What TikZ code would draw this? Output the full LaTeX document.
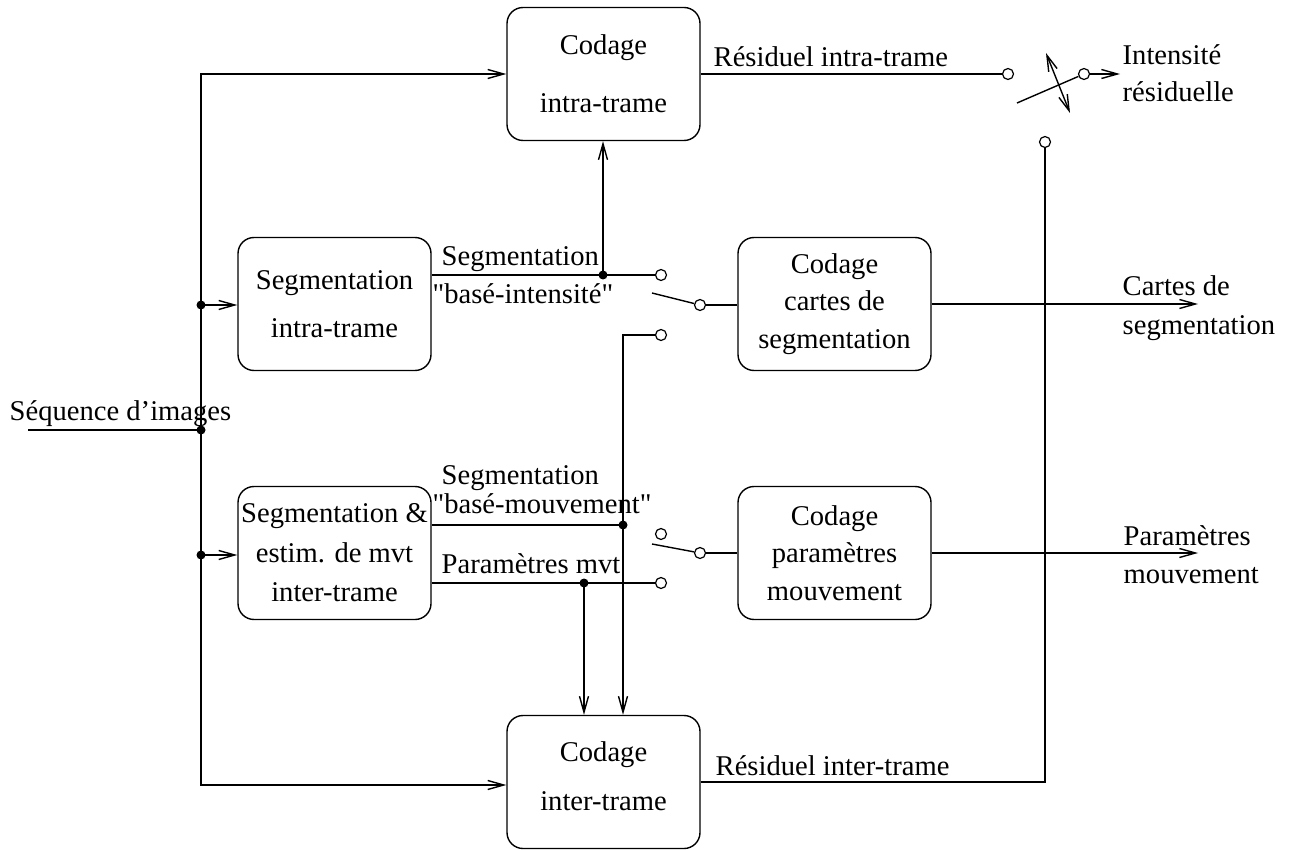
\documentclass[tikz,border=0pt]{standalone}
\usepackage{fontspec}
\setmainfont{Liberation Serif}
\newfontfamily\plainquote{Liberation Serif}
\usetikzlibrary{arrows.meta}
\newcommand{\sq}{{\plainquote"}}

\begin{document}
\begin{tikzpicture}[x=0.5pt,y=-0.5pt, line width=0.7pt,
  every node/.style={font=\fontsize{14.3}{18.75}\selectfont},
  block/.style={draw, rounded corners=8pt, minimum width=96.5pt, minimum height=66.5pt, align=center, inner sep=0pt},
  contact/.style={draw, circle, inner sep=0pt, minimum size=5.5pt, line width=0.6pt},
  junction/.style={fill, circle, inner sep=0pt, minimum size=4.5pt},
  tag/.style={anchor=base west, inner sep=0pt},
  flow/.style={-{Straight Barb[length=8pt,width=4.5pt]}},
  bothflow/.style={{Straight Barb[length=8pt,width=4.5pt]}-{Straight Barb[length=8pt,width=4.5pt]}}
]
\useasboundingbox (0,0) rectangle (1290,850);

% processing blocks
\node[block] (intra)  at (603.5,74)  {Codage\\[10.25pt]intra-trame};
\node[block] (segI)   at (334.5,304) {Segmentation\\[5pt]intra-trame};
\node[block] (cartes) at (834.5,304) {Codage\\cartes de\\segmentation};
\node[block] (segM)   at (334.5,553) {Segmentation \&\\[1pt]estim. de mvt\\[1pt]inter-trame};
\node[block] (param)  at (834.5,553) {Codage\\paramètres\\mouvement};
\node[block] (inter)  at (603.5,782) {Codage\\[5.75pt]inter-trame\\[-12.75pt]};

% input bus
\coordinate (inStart) at (28,430);
\node[junction] (jIn)   at (201,430) {};
\node[junction] (jSegI) at (201,305) {};
\node[junction] (jSegM) at (201,555) {};
\draw (inStart) -- (jIn.center);
\draw[flow] (jIn.center) |- (intra.west);
\draw[flow] (jIn.center) |- ([yshift=-1.5pt]inter.west);
\draw[flow] (jSegI.center) -- (segI.west |- jSegI);
\draw[flow] (jSegM.center) -- (segM.west |- jSegM);

% intensity-based segmentation and its switch
\node[junction] (jI)  at (603,275) {};
\node[contact]  (c1a) at (661,275) {};
\node[contact]  (c1p) at (700,305) {};
\node[contact]  (c1b) at (661,335) {};
\coordinate (b1) at (652,293);
\draw (segI.east |- jI) -- (jI.center) -- (c1a);
\draw[flow] (jI.center) -- (jI |- intra.south);
\draw (b1) -- (c1p);
\draw (c1p) -- (cartes.west |- c1p);

% motion-based segmentation and motion parameters
\node[junction] (jM)  at (623,525) {};
\node[junction] (jP)  at (584,583) {};
\node[contact]  (c2a) at (661,534) {};
\node[contact]  (c2p) at (700,553) {};
\node[contact]  (c2b) at (661,583) {};
\coordinate (b2) at (652,544);
\draw (segM.east |- jM) -- (jM.center);
\draw (c1b) -| (jM.center);
\draw[flow] (jM.center) -- (jM |- inter.north);
\draw (segM.east |- jP) -- (jP.center) -- (c2b);
\draw[flow] (jP.center) -- (jP |- inter.north);
\draw (b2) -- (c2p);
\draw (c2p) -- (param.west |- c2p);

% outputs
\coordinate (outC) at (1198,304);
\coordinate (outP) at (1198,553);
\draw[flow] (cartes.east) -- (outC);
\draw[flow] (param.east) -- (outP);

% residual switch
\node[contact] (c3a) at (1008,74) {};
\node[contact] (c3p) at (1084,74) {};
\node[contact] (c3b) at (1045,142) {};
\coordinate (b3) at (1017,103);
\coordinate (outI) at (1120,74);
\coordinate (d1) at (1046,53);
\coordinate (d2) at (1070,113);
\draw (intra.east) -- (c3a);
\draw (b3) -- (c3p);
\draw[flow] (c3p) -- (outI);
\draw (inter.east) -| (c3b);
\draw[bothflow] (d1) -- (d2);

% labels
\node[tag] (tSeq)   at (9,420)    {Séquence d’images};
\node[tag] (tSegI)  at (441,265)  {Segmentation};
\node[tag] (tBI)    at (432,304)  {\sq basé-intensité\sq};
\node[tag] (tSegM)  at (441,484)  {Segmentation};
\node[tag] (tBM)    at (432,513)  {\sq basé-mouvement\sq};
\node[tag] (tPm)    at (441,573)  {Paramètres mvt};
\node[tag] (tRIa)   at (713,67)   {Résiduel intra-trame};
\node[tag] (tRIe)   at (715,775)  {Résiduel inter-trame};
\node[tag] (tInt1)  at (1122,65)  {Intensité};
\node[tag] (tInt2)  at (1122,102) {résiduelle};
\node[tag] (tCar1)  at (1122,295) {Cartes de};
\node[tag] (tCar2)  at (1122,335) {segmentation};
\node[tag] (tPar1)  at (1123,545) {Paramètres};
\node[tag] (tPar2)  at (1123,583) {mouvement};
\end{tikzpicture}
\end{document}
